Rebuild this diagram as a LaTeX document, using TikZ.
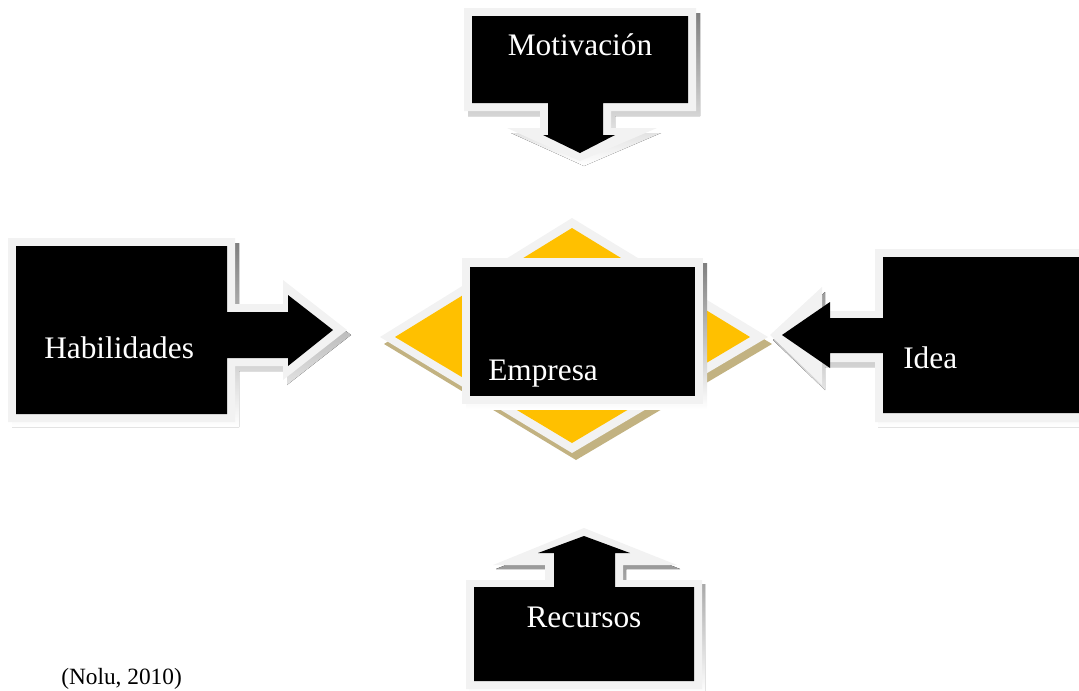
\documentclass[tikz,border=0pt]{standalone}
\usepackage{fontspec}
\setmainfont{Liberation Serif}
\definecolor{rim}{HTML}{F2F2F2}
\definecolor{shade}{HTML}{BFBFBF}
\definecolor{gold}{HTML}{FFC000}
\definecolor{tan}{HTML}{C2B281}

\begin{document}
\begin{tikzpicture}[x=0.75pt,y=-0.75pt,
	lbl/.style={text=white,inner sep=0pt,font=\fontsize{23.5}{28}\selectfont}]
	\useasboundingbox (0,0) rectangle (1079,690);
	\clip (0,0) rectangle (1079,690);
	% centre diamond
	\fill[tan] (384,344) -- (576,225) -- (772,344) -- (576,460) -- cycle;
	\fill[rim] (380,337) -- (572,218) -- (768,337) -- (572,453) -- cycle;
	\fill[gold] (395,337) -- (572,228) -- (750,337) -- (572,443) -- cycle;
	\fill[shade] (466,263) rectangle (707,409);
	\fill[rim] (462,258) rectangle (703,404);
	\fill[black] (470,267) rectangle (695,396);
	% Motivacion, top
	\fill[shade,shift={(4,5)}] (464,8) -- (696,8) -- (696,111) -- (611,111) -- (611,128) -- (657,128) -- (580,161) -- (507,128) -- (540,128) -- (540,111) -- (464,111) -- cycle;
	\fill[rim] (464,8) -- (696,8) -- (696,111) -- (611,111) -- (611,128) -- (657,128) -- (580,161) -- (507,128) -- (540,128) -- (540,111) -- (464,111) -- cycle;
	\fill[black] (472,16) -- (688,16) -- (688,103) -- (603,103) -- (603,135) -- (615,135) -- (580,153) -- (543,135) -- (548,135) -- (548,103) -- (472,103) -- cycle;
	% Habilidades, left
	\fill[shade,shift={(4,5)}] (8,238) -- (235,238) -- (235,304) -- (283,304) -- (283,280) -- (347,330) -- (283,380) -- (283,366) -- (235,366) -- (235,422) -- (8,422) -- cycle;
	\fill[rim] (8,238) -- (235,238) -- (235,304) -- (283,304) -- (283,280) -- (347,330) -- (283,380) -- (283,366) -- (235,366) -- (235,422) -- (8,422) -- cycle;
	\fill[black] (16,246) -- (227,246) -- (227,312) -- (288,312) -- (288,295) -- (333,330) -- (288,366) -- (288,358) -- (227,358) -- (227,414) -- (16,414) -- cycle;
	% Idea, right
	\fill[shade,shift={(3,5)}] (1090,249) -- (875,249) -- (875,311) -- (822,311) -- (822,287) -- (770,335) -- (822,385) -- (822,362) -- (875,362) -- (875,422) -- (1090,422) -- cycle;
	\fill[rim] (1090,249) -- (875,249) -- (875,311) -- (822,311) -- (822,287) -- (770,335) -- (822,385) -- (822,362) -- (875,362) -- (875,422) -- (1090,422) -- cycle;
	\fill[black] (1090,257) -- (883,257) -- (883,318) -- (830,318) -- (830,302) -- (782,335) -- (830,368) -- (830,353) -- (883,353) -- (883,413) -- (1090,413) -- cycle;
	% Recursos, bottom
	\fill[shade,shift={(3,4)}] (466,689) -- (466,580) -- (545,580) -- (545,565) -- (493,565) -- (584,528) -- (677,565) -- (623,565) -- (623,580) -- (702,580) -- (702,689) -- cycle;
	\fill[rim] (466,689) -- (466,580) -- (545,580) -- (545,565) -- (493,565) -- (584,528) -- (677,565) -- (623,565) -- (623,580) -- (702,580) -- (702,689) -- cycle;
	\fill[black] (474,681) -- (474,587) -- (554,587) -- (554,553) -- (538,553) -- (584,536) -- (630,553) -- (615,553) -- (615,587) -- (694,587) -- (694,681) -- cycle;
	% texts
	\node[lbl,anchor=base] (motiv) at (580,55) {Motivación};
	\node[lbl,anchor=base west] (habil) at (44,358) {Habilidades};
	\node[lbl,anchor=base west] (empresa) at (488,380) {Empresa};
	\node[lbl,anchor=base west] (idea) at (903,368) {Idea};
	\node[lbl,anchor=base] (recur) at (584,627) {Recursos};
	\node[inner sep=0pt,anchor=base west,font=\fontsize{17.5}{21}\selectfont] (cita) at (61,684) {(Nolu, 2010)};
\end{tikzpicture}
\end{document}
